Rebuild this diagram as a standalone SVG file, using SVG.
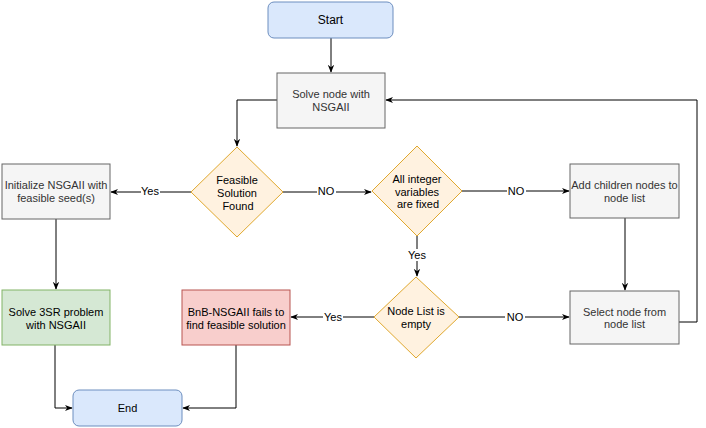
<svg xmlns="http://www.w3.org/2000/svg" width="706" height="428" viewBox="0 0 706 428">
<defs>
<marker id="ah" viewBox="0 0 10 10" refX="9" refY="5" markerWidth="8" markerHeight="8" orient="auto" markerUnits="userSpaceOnUse">
<path d="M0,1 L10,5 L0,9 L3,5 Z" fill="#000"/>
</marker>
<style>
text{font-family:"Liberation Sans",Arial,sans-serif;font-size:11px;text-anchor:middle;}
.blue{fill:#dae8fc;stroke:#6c8ebf;stroke-width:1;}
.grey{fill:#f5f5f5;stroke:#666666;stroke-width:1;}
.dia{fill:#ffe6cc;stroke:#d79b00;stroke-width:1;}
.dia2{fill:#fff2e0;stroke:#e0a82e;stroke-width:1;}
.green{fill:#d5e8d4;stroke:#82b366;stroke-width:1;}
.red{fill:#f8cecc;stroke:#b85450;stroke-width:1;}
.gt{fill:#333333;}
.bt{fill:#000000;}
.edge{fill:none;stroke:#000;stroke-width:1;marker-end:url(#ah);}
.edge2{fill:none;stroke:#000;stroke-width:1;}
.lbl{fill:#000;font-size:11px;}
</style>
</defs>
<g id="connectors">
<path class="edge" d="M331,38 L331,72"/>
<path class="edge" d="M277,100 L237,100 L237,146"/>
<path class="edge" d="M191,192 L111,192"/>
<rect x="141" y="185" width="19" height="13" fill="#fff"/>
<text class="lbl" x="150" y="195">Yes</text>
<path class="edge" d="M283,192 L371,192"/>
<rect x="317" y="185" width="19" height="13" fill="#fff"/>
<text class="lbl" x="326" y="195">NO</text>
<path class="edge" d="M462,191 L569,191"/>
<rect x="507" y="184" width="19" height="13" fill="#fff"/>
<text class="lbl" x="516" y="195">NO</text>
<path class="edge" d="M417,236 L417,276"/>
<rect x="407" y="249" width="20" height="12" fill="#fff"/>
<text class="lbl" x="417" y="259">Yes</text>
<path class="edge" d="M625,218 L625,290"/>
<path class="edge" d="M459,317 L569,317"/>
<rect x="505" y="310" width="20" height="13" fill="#fff"/>
<text class="lbl" x="515" y="321">NO</text>
<path class="edge" d="M374,317 L291,317"/>
<rect x="323" y="310" width="20" height="13" fill="#fff"/>
<text class="lbl" x="333" y="321">Yes</text>
<path class="edge" d="M679,322 L697,322 L697,100 L386,100"/>
<path class="edge" d="M56,219 L56,289"/>
<path class="edge" d="M55,345 L55,408 L72,408"/>
<path class="edge" d="M236,345 L236,408 L183,408"/>
</g>
<g id="start">
<rect class="blue" x="268" y="2" width="125" height="36" rx="6"/>
<text class="bt" x="330.5" y="24" style="font-size:12px">Start</text>
</g>
<g id="solve-node">
<rect class="grey" x="277" y="73" width="108" height="55"/>
<text class="gt" x="331" y="98">Solve node with</text>
<text class="gt" x="331" y="111">NSGAII</text>
</g>
<g id="feasible">
<polygon class="dia2" points="237,147 283,192 237,237 191,192"/>
<text class="bt" x="237" y="184">Feasible</text>
<text class="bt" x="237" y="197">Solution</text>
<text class="bt" x="238" y="210">Found</text>
</g>
<g id="initialize">
<rect class="grey" x="2" y="164" width="108" height="55"/>
<text class="gt" x="56" y="189">Initialize NSGAII with</text>
<text class="gt" x="56" y="202">feasible seed(s)</text>
</g>
<g id="all-integer">
<polygon class="dia2" points="417,146 462,191 417,236 372,191"/>
<text class="bt" x="417" y="183">All integer</text>
<text class="bt" x="417" y="196">variables</text>
<text class="bt" x="418" y="208">are fixed</text>
</g>
<g id="add-children">
<rect class="grey" x="570" y="164" width="109" height="54"/>
<text class="gt" x="624.5" y="189">Add children nodes to</text>
<text class="gt" x="624.5" y="202">node list</text>
</g>
<g id="node-list-empty">
<polygon class="dia2" points="416,277 459,317 416,358 374,317"/>
<text class="bt" x="416" y="315">Node List is</text>
<text class="bt" x="416" y="328">empty</text>
</g>
<g id="select-node">
<rect class="grey" x="570" y="291" width="109" height="53"/>
<text class="gt" x="624.5" y="316">Select node from</text>
<text class="gt" x="624.5" y="328">node list</text>
</g>
<g id="bnb-fails">
<rect class="red" x="182" y="290" width="108" height="55"/>
<text class="bt" x="236" y="316">BnB-NSGAII fails to</text>
<text class="bt" x="236" y="329">find feasible solution</text>
</g>
<g id="solve-3sr">
<rect class="green" x="2" y="290" width="108" height="55"/>
<text class="bt" x="56" y="316">Solve 3SR problem</text>
<text class="bt" x="56" y="329">with NSGAII</text>
</g>
<g id="end">
<rect class="blue" x="73" y="390" width="109" height="36" rx="6"/>
<text class="bt" x="127.5" y="412">End</text>
</g>
</svg>
